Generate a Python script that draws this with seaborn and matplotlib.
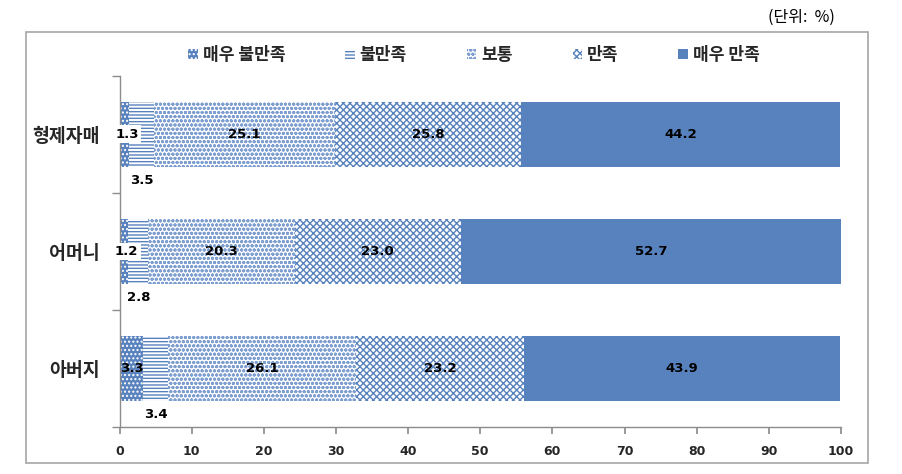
import matplotlib
matplotlib.use("Agg")
import matplotlib.pyplot as plt
from matplotlib.patches import Patch, Rectangle
import seaborn as sns
import numpy as np
import pandas as pd

categories = ["형제자매", "어머니", "아버지"]
series_names = ["매우 불만족", "불만족", "보통", "만족", "매우 만족"]
v_very_dis = [1.3, 1.2, 3.3]
v_dis = [3.5, 2.8, 3.4]
v_normal = [25.1, 20.3, 26.1]
v_sat = [25.8, 23.0, 23.2]
v_very_sat = [44.2, 52.7, 43.9]
xticks = [0, 10, 20, 30, 40, 50, 60, 70, 80, 90, 100]

sns.set_theme(style="white")
KR = ["Noto Sans CJK KR", "DejaVu Sans"]
NUM = ["DejaVu Sans"]
plt.rcParams["font.family"] = KR
plt.rcParams["hatch.linewidth"] = 1.0

BLUE = "#5882BE"
AXIS_GREY = "#8C8C8C"
styles = [
    dict(fc=BLUE, ec="white", hatch="...."),
    dict(fc="white", ec=BLUE, hatch="-----"),
    dict(fc="white", ec="#7E9FD0", hatch="oooo"),
    dict(fc="white", ec=BLUE, hatch="xxxxx"),
    dict(fc=BLUE, ec=BLUE, hatch=None),
]

series = [v_very_dis, v_dis, v_normal, v_sat, v_very_sat]
vals = np.array(series)
cum = np.cumsum(vals, axis=0)

fig = plt.figure(figsize=(9.02, 4.74), dpi=100)
ax = fig.add_axes([119.5 / 902, 1 - 427 / 474, 721.5 / 902, 351.5 / 474])

# outer border
fig.patches.append(Rectangle((26 / 902, 1 - 463 / 474), (868 - 26) / 902, (463 - 32) / 474,
                             transform=fig.transFigure, fill=False, ec="#A6A6A6", lw=1.2))

for i in range(len(series) - 1, -1, -1):
    df = pd.DataFrame({"cat": categories, "val": cum[i]})
    n_before = len(ax.patches)
    sns.barplot(data=df, x="val", y="cat", orient="h", color=BLUE, saturation=1,
                width=0.556, ax=ax, errorbar=None)
    st = styles[i]
    for p in ax.patches[n_before:]:
        p.set_facecolor(st["fc"])
        p.set_edgecolor(st["ec"])
        p.set_linewidth(0)
        if st["hatch"]:
            p.set_hatch(st["hatch"])

ax.set_xlim(0, 100)
ax.set_ylim(2.5, -0.5)
ax.set_xticks(xticks)
ax.set_xticklabels([str(t) for t in xticks], fontfamily=NUM, fontweight="bold", fontsize=9)
ax.set_yticks(range(len(categories)))
ax.set_yticklabels(categories, fontfamily=KR, fontweight="bold", fontsize=13.2)
ax.set_yticks([-0.5, 0.5, 1.5, 2.5], minor=True)
ax.set_xlabel("")
ax.set_ylabel("")
for s in ["top", "right"]:
    ax.spines[s].set_visible(False)
for s in ["left", "bottom"]:
    ax.spines[s].set_color(AXIS_GREY)
    ax.spines[s].set_linewidth(1.0)
ax.tick_params(axis="x", which="both", bottom=True, length=5, color=AXIS_GREY, pad=8)
ax.tick_params(axis="y", which="major", left=False, pad=8)
ax.tick_params(axis="y", which="minor", left=True, length=6, color=AXIS_GREY, width=1.0)

# data labels
for j in range(len(categories)):
    for i in range(len(series)):
        v = vals[i, j]
        start = cum[i, j] - v
        cx = start + v / 2
        kw = dict(ha="center", va="center", fontfamily=NUM, fontweight="bold",
                  fontsize=9.5, color="black")
        if i == 0:
            if v < 2:
                ax.text(cx + 0.4, j, f"{v:.1f}", **kw,
                        bbox=dict(fc="white", ec="none", pad=1.5))
            else:
                ax.text(cx, j, f"{v:.1f}", **kw)
        elif i == 1:
            ax.text(cx, j + 0.395, f"{v:.1f}", **kw)
        else:
            ax.text(cx, j, f"{v:.1f}", **kw)

handles = [Patch(facecolor=st["fc"], edgecolor=st["ec"], hatch=st["hatch"], linewidth=0)
           for st in styles]
fig.legend(handles, series_names, loc="center", bbox_to_anchor=(474 / 902, 1 - 55 / 474),
           ncol=5, frameon=False, handlelength=0.55, handleheight=0.55, handletextpad=0.3,
           columnspacing=3.5, prop=dict(family=KR, weight="bold", size=12.3))

fig.text(835 / 902, 1 - 17 / 474, "(단위:  %)", ha="right", va="center",
         fontfamily=KR, fontsize=11.5, color="black")

fig.savefig("out.png", dpi=100)
